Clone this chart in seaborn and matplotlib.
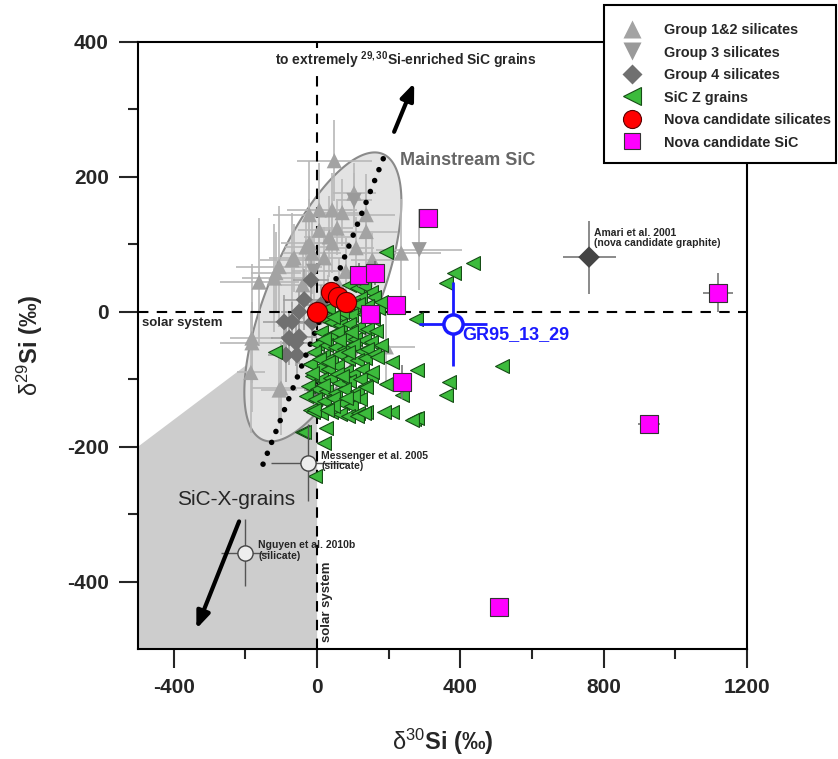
import numpy as np
import pandas as pd
import matplotlib
matplotlib.use('Agg')
import matplotlib.pyplot as plt
import seaborn as sns
from matplotlib.lines import Line2D
from matplotlib.patches import Rectangle

sns.set_style('ticks')
plt.rcParams['font.family'] = ['Liberation Sans', 'DejaVu Sans']
plt.rcParams['mathtext.fontset'] = 'custom'
plt.rcParams['mathtext.rm'] = 'Liberation Sans'
plt.rcParams['mathtext.bf'] = 'Liberation Sans:bold'
plt.rcParams['mathtext.it'] = 'Liberation Sans:italic'
plt.rcParams['axes.unicode_minus'] = False

# Group 1&2 silicates (d30Si, d29Si, errors)
g12_x = [48, 103, 6, 42, 70, -22, 137, 6, 56, 137, 34, -22, 109, 235, -70, 154, -106, -64, -14, 20,
         -120, -162, -115, -182, -185, -101, -182, 193, -106, -31, 42, 80, 60, -40]
g12_y = [224, 176, 151, 151, 147, 144, 144, 121, 124, 119, 111, 102, 95, 87, 77, 77, 67, 80, 87, 80,
         50, 44, 58, -39, -90, -113, -46, -52, -116, 96, 102, 60, 40, 40]
g12_xerr = [105, 60, 90, 70, 55, 100, 80, 60, 45, 90, 70, 80, 50, 110, 90, 60, 120, 70, 80, 60,
            90, 110, 70, 60, 40, 80, 90, 80, 50, 60, 50, 60, 50, 60]
g12_yerr = [60, 45, 70, 55, 50, 80, 60, 50, 40, 55, 60, 65, 45, 80, 70, 40, 90, 50, 60, 45,
            80, 95, 60, 110, 90, 70, 60, 60, 50, 50, 45, 50, 40, 50]

# Group 3 silicates
g3_x = [285, 103, -10, 30]
g3_y = [92, 165, 60, 15]
g3_xerr = [120, 50, 60, 50]
g3_yerr = [60, 40, 50, 40]

# Group 4 silicates
g4_x = [-17, -36, -50, -92, -14, -50, -78, -59, -87, -56, -8, -70, 10]
g4_y = [47, 18, 0, -15, -16, -37, -39, -46, -64, -64, -116, -15, 10]
g4_xerr = [50, 60, 50, 60, 40, 50, 50, 40, 50, 45, 30, 40, 40]
g4_yerr = [40, 45, 40, 40, 35, 40, 40, 35, 40, 35, 30, 30, 30]

# SiC Z grains
z_x = [90, 110, 130, 150, 120, 160, 100, 140, 75, 170, 60, 95, 130, 155,
       20, 40, 65, 90, 115, 140, 165, 10, 35, 55, 80, 105, 130, 150, 0, 25, 50, 75, 100, 125,
       -10, 15, 40, 60, 85, 110, 135, -20, 5, 30, 55, 80, 100, 125, 150, -15, 10, 35, 60, 90,
       -25, 0, 25, 50, 75, 110, -30, -5, 20, 45, 70, 95, 120, -20, 10, 40, 65, 85,
       -11, -20, -14,
       30, 70, 115, 45, 95, 20, 60, 140, 5, 85, 30, 120, 55, 160, 15, 100, 70, 45, 135, 80,
       193, 434, 383, 360, 277, 179, 179, 280, 369, 360, 515, 193, 238, 271, 280, 210, 187, 137,
       115, 168, 154, 137, -8, 28, 25, 20, -42, -6, 112, 131, 266, -117, 210, -36]
z_y = [40, 35, 38, 30, 20, 22, 10, 8, 5, 5, -5, -5, -3, -10,
       -10, -15, -20, -18, -22, -25, -28, -30, -35, -30, -38, -40, -42, -45, -48, -50, -52, -55, -50, -58,
       -60, -65, -68, -62, -70, -72, -68, -78, -82, -85, -80, -88, -92, -85, -95, -95, -100, -98, -105, -103,
       -110, -115, -118, -120, -115, -118, -125, -130, -133, -128, -135, -140, -130, -145, -150, -148, -152, -155,
       -148, -77, -91,
       5, 0, 12, -8, -30, -40, -42, -55, -70, -60, -75, -100, -92, -62, -108, -125, -95, -140, -110, -128,
       89, 72, 58, 43, -10, 15, -49, -86, -104, -124, -80, -107, -123, -159, -157, -148, -148, -148,
       -150, -67, -90, -111, -145, -145, -172, -194, -178, -243, -155, -150, -161, -59, -74, -178]

# Nova candidate silicates
nsil_x = [0, 39, 57, 81]
nsil_y = [-1, 30, 22, 15]

# Nova candidate SiC
nsic_x = [117, 162, 221, 148, 310, 238, 1119, 926, 509]
nsic_y = [55, 58, 10, -4, 139, -104, 28, -167, -437]
nsic_xerr = [0, 0, 0, 0, 0, 0, 43, 30, 10]
nsic_yerr = [18, 18, 0, 0, 0, 25, 29, 10, 10]

# GR95_13_29
gr_x, gr_y, gr_xerr, gr_yerr = 380, -18, 95, 62

# literature grains
lit_names = ['Messenger et al. 2005\n(silicate)', 'Nguyen et al. 2010b\n(silicate)']
lit_x = [-25, -201]
lit_y = [-224, -357]
lit_xerr = [105, 66]
lit_yerr = [57, 50]
amari_x, amari_y, amari_xerr, amari_yerr = 759, 81, 74, 54

# mainstream SiC ellipse: center and two half-axis vectors
ell_c = (16, 22)
ell_u = (167, 212)
ell_v = (142, -31)
# dotted trend line, X-grain region
trend_x = [-151, 195]
trend_y = [-226, 241]
xg_x = [-500, -500, 0, 0]
xg_y = [-500, -200, 0, -500]

fig = plt.figure(figsize=(8.38, 7.59), dpi=100)
ax = fig.add_axes([0.1647, 0.1449, 0.7267, 0.7998])

ax.fill(xg_x, xg_y, color='#cdcdcd', lw=0, zorder=0.5)
t = np.linspace(0, 2 * np.pi, 300)
ex = ell_c[0] + ell_u[0] * np.cos(t) + ell_v[0] * np.sin(t)
ey = ell_c[1] + ell_u[1] * np.cos(t) + ell_v[1] * np.sin(t)
ax.fill(ex, ey, facecolor='#e3e3e3', edgecolor='#8a8a8a', lw=1.5, zorder=1)

ax.axhline(0, color='black', ls=(0, (5, 4)), lw=1.5, zorder=2.5)
ax.axvline(0, color='black', ls=(0, (5, 4)), lw=1.5, zorder=2.5)

ax.errorbar(g12_x, g12_y, xerr=g12_xerr, yerr=g12_yerr, fmt='none', ecolor='#b8b8b8', elinewidth=1.2, zorder=2)
ax.errorbar(g3_x, g3_y, xerr=g3_xerr, yerr=g3_yerr, fmt='none', ecolor='#b8b8b8', elinewidth=1.2, zorder=2)
ax.errorbar(g4_x, g4_y, xerr=g4_xerr, yerr=g4_yerr, fmt='none', ecolor='#a0a0a0', elinewidth=1.2, zorder=2)

sns.scatterplot(x=g12_x, y=g12_y, marker='^', s=120, color='#a3a3a3', edgecolor='none', ax=ax, zorder=3)
sns.scatterplot(x=g3_x, y=g3_y, marker='v', s=120, color='#9a9a9a', edgecolor='none', ax=ax, zorder=3)
sns.scatterplot(x=g4_x, y=g4_y, marker='D', s=75, color='#707070', edgecolor='none', ax=ax, zorder=3)

ax.plot(trend_x, trend_y, color='black', lw=4, ls=(0, (0.01, 2.1)), dash_capstyle='round', zorder=3.5)

sns.scatterplot(x=z_x, y=z_y, marker='<', s=100, color='#3cbb3c', edgecolor='#164d16', linewidth=0.8, ax=ax, zorder=4)
sns.scatterplot(x=nsil_x, y=nsil_y, marker='o', s=210, color='#ff0000', edgecolor='#5a0000', linewidth=0.8, ax=ax, zorder=5)
ax.errorbar(nsic_x, nsic_y, xerr=nsic_xerr, yerr=nsic_yerr, fmt='none', ecolor='#777777', elinewidth=1.2, zorder=4.5)
sns.scatterplot(x=nsic_x, y=nsic_y, marker='s', s=150, color='#ff00ff', edgecolor='#333333', linewidth=0.8, ax=ax, zorder=5)

# GR95_13_29
ax.errorbar([gr_x], [gr_y], xerr=gr_xerr, yerr=gr_yerr, fmt='none', ecolor='#1a1aff', elinewidth=2, zorder=5)
sns.scatterplot(x=[gr_x], y=[gr_y], marker='o', s=190, color='white', edgecolor='#1a1aff', linewidth=2.5, ax=ax, zorder=6)
ax.text(gr_x + 25, gr_y - 16, 'GR95_13_29', color='#1a1aff', fontsize=13, fontweight='bold', va='center', zorder=6)

# literature grains
ax.errorbar(lit_x, lit_y, xerr=lit_xerr, yerr=lit_yerr, fmt='none', ecolor='#555555', elinewidth=1, zorder=5)
sns.scatterplot(x=lit_x, y=lit_y, marker='o', s=120, color='#eeeeee', edgecolor='#444444', linewidth=1, ax=ax, zorder=6)
for name, lx, ly in zip(lit_names, lit_x, lit_y):
    ax.text(lx + 36, ly + 3, name, fontsize=7.5, fontweight='bold', va='center', linespacing=1.05, zorder=6)
ax.errorbar([amari_x], [amari_y], xerr=amari_xerr, yerr=amari_yerr, fmt='none', ecolor='#777777', elinewidth=1.2, zorder=5)
sns.scatterplot(x=[amari_x], y=[amari_y], marker='D', s=120, color='#444444', edgecolor='none', ax=ax, zorder=6)
ax.text(amari_x + 14, amari_y + 28, 'Amari et al. 2001\n(nova candidate graphite)', fontsize=7.5, fontweight='bold',
        va='center', linespacing=1.05, zorder=6)

# annotations
ax.annotate('', xy=(274, 343), xytext=(212, 263),
            arrowprops=dict(arrowstyle='-|>,head_length=1.0,head_width=0.4', lw=3, color='black'), zorder=7)
ax.annotate('', xy=(-340, -474), xytext=(-215, -307),
            arrowprops=dict(arrowstyle='-|>,head_length=1.0,head_width=0.4', lw=3, color='black'), zorder=7)
ax.text(-117, 373, r'to extremely $^{\mathbf{29,30}}$Si-enriched SiC grains', fontsize=10, fontweight='bold',
        va='center', bbox=dict(facecolor='white', edgecolor='none', pad=1), zorder=7)
ax.text(232, 225, 'Mainstream SiC', fontsize=13, fontweight='bold', color='#666666', va='center', zorder=7)
ax.text(-391, -278, 'SiC-X-grains', fontsize=15, va='center', zorder=7)
ax.text(-488, -16, 'solar system', fontsize=9.5, fontweight='bold', va='center', zorder=7)
ax.text(28, -490, 'solar system', fontsize=9.5, fontweight='bold', rotation=90, ha='center', va='bottom', zorder=7)

ax.set_xlim(-500, 1200)
ax.set_ylim(-500, 400)
ax.set_xticks([-400, 0, 400, 800, 1200])
ax.set_xticks([-200, 200, 600, 1000], minor=True)
ax.set_yticks([-400, -200, 0, 200, 400])
ax.set_yticks([-300, -100, 100, 300], minor=True)
ax.tick_params(which='major', length=14, width=1.5, labelsize=15, pad=7, direction='out')
ax.tick_params(which='minor', length=7, width=1.5, direction='out')
for lbl in ax.get_xticklabels() + ax.get_yticklabels():
    lbl.set_fontweight('bold')
for sp in ax.spines.values():
    sp.set_linewidth(1.5)
    sp.set_color('black')

ax.set_xlabel(r'$\mathrm{\delta}^{30}$Si (‰)', fontsize=17, fontweight='bold')
ax.set_ylabel(r'$\mathrm{\delta}^{29}$Si (‰)', fontsize=17, fontweight='bold')
ax.xaxis.label.set_va('center')
ax.yaxis.label.set_va('center')
ax.xaxis.set_label_coords(0.5, -0.153)
ax.yaxis.set_label_coords(-0.177, 0.5)

# legend box drawn by hand so its padding can differ from the text spacing
box = Rectangle((604 / 838, 1 - 163 / 759), 232 / 838, 158 / 759, transform=fig.transFigure,
                facecolor='white', edgecolor='black', lw=1.5, zorder=10)
fig.patches.append(box)

handles = [
    Line2D([], [], ls='none', marker='^', ms=13, color='#a3a3a3', mec='none', label='Group 1&2 silicates'),
    Line2D([], [], ls='none', marker='v', ms=13, color='#9a9a9a', mec='none', label='Group 3 silicates'),
    Line2D([], [], ls='none', marker='D', ms=10, color='#707070', mec='none', label='Group 4 silicates'),
    Line2D([], [], ls='none', marker='<', ms=13, color='#3cbb3c', mec='#164d16', mew=0.8, label='SiC Z grains'),
    Line2D([], [], ls='none', marker='o', ms=13, color='#ff0000', mec='#5a0000', mew=0.8, label='Nova candidate silicates'),
    Line2D([], [], ls='none', marker='s', ms=12, color='#ff00ff', mec='#333333', mew=0.8, label='Nova candidate SiC'),
]
leg = fig.legend(handles=handles, loc='upper left', bbox_to_anchor=(621 / 838, 1 - 23 / 759),
                 bbox_transform=fig.transFigure, prop={'weight': 'bold', 'size': 10.4},
                 frameon=False, borderpad=0, handlelength=1.5, handletextpad=1.5,
                 labelspacing=0.56, handleheight=1.0, borderaxespad=0)
leg.set_zorder(20)

fig.savefig('out.png', dpi=100)
